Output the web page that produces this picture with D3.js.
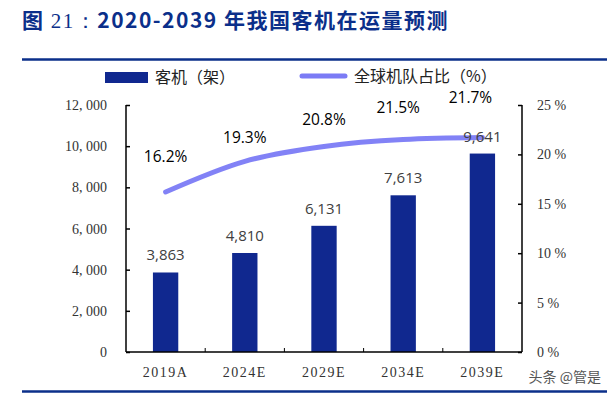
<!DOCTYPE html>
<html>
<head>
<meta charset="utf-8">
<script src="https://cdn.jsdelivr.net/npm/d3@7/dist/d3.min.js"></script>
<style>
  body { margin: 0; background: #fff; }
  svg { display: block; }
</style>
</head>
<body>
<svg id="chart"></svg>
<script>
// data
var years = ["2019A", "2024E", "2029E", "2034E", "2039E"]
var planes = [3863, 4810, 6131, 7613, 9641]
var share = [16.2, 19.3, 20.8, 21.5, 21.7]
var leftTicks = [0, 2000, 4000, 6000, 8000, 10000, 12000]
var rightTicks = [0, 5, 10, 15, 20, 25]

var width = 611, height = 397
var barColor = "#10288f"
var lineColor = "#7b7bf5"
var navy = "#0b2f8a"
var serif = "'Liberation Serif', 'DejaVu Serif', serif"
var cjk = "'Noto Sans CJK SC', sans-serif"
var sans = "'Open Sans', 'Noto Sans', sans-serif"

var plot = { left: 126, right: 522, top: 105, bottom: 352 }

var svg = d3.select("#chart")
    .attr("width", width)
    .attr("height", height)

// title + rules
var title = svg.append("text")
    .attr("x", 22)
    .attr("y", 28)
    .style("font-family", cjk)
    .style("font-size", "21px")
    .style("font-weight", "bold")
    .style("letter-spacing", "1.5px")
    .style("fill", navy)
title.append("tspan").text("图 ")
title.append("tspan").style("font-weight", "normal").style("font-family", serif).text("21：")
title.append("tspan").text("2020-2039 年我国客机在运量预测")

svg.append("line")
    .attr("x1", 22).attr("x2", 607)
    .attr("y1", 59.5).attr("y2", 59.5)
    .attr("stroke", navy).attr("stroke-width", 2.5)

svg.append("line")
    .attr("x1", 22).attr("x2", 607)
    .attr("y1", 391.5).attr("y2", 391.5)
    .attr("stroke", navy).attr("stroke-width", 2.5)

// scales
var x = d3.scaleBand()
    .domain(years)
    .range([plot.left, plot.right])
    .padding(0)

var yL = d3.scaleLinear()
    .domain([0, 12000])
    .range([plot.bottom, plot.top])

var yR = d3.scaleLinear()
    .domain([0, 25])
    .range([plot.bottom, plot.top])

var barW = x.bandwidth() * 0.32
var cx = (d) => x(d) + x.bandwidth() / 2

// bars
svg.selectAll(".bar")
    .data(planes)
    .enter().append("rect")
    .attr("class", "bar")
    .attr("x", (d, i) => cx(years[i]) - barW / 2)
    .attr("y", (d) => yL(d))
    .attr("width", barW)
    .attr("height", (d) => plot.bottom - yL(d))
    .attr("fill", barColor)

// axes
var fmtL = (d) => d3.format(",")(d).replace(",", ", ")

var leftAxis = svg.append("g")
    .attr("transform", "translate(" + plot.left + ",0)")
    .call(d3.axisRight(yL).tickValues(leftTicks).tickSize(4).tickFormat(""))
leftAxis.select(".domain").attr("d", "M0," + plot.top + "V" + plot.bottom)

var rightAxis = svg.append("g")
    .attr("transform", "translate(" + plot.right + ",0)")
    .call(d3.axisLeft(yR).tickValues(rightTicks).tickSize(4).tickFormat(""))
rightAxis.select(".domain").attr("d", "M0," + plot.top + "V" + plot.bottom)

var bottomAxis = svg.append("g")
    .attr("transform", "translate(0," + plot.bottom + ")")
    .call(d3.axisTop(x).tickSize(0).tickFormat(""))
bottomAxis.select(".domain").attr("d", "M" + plot.left + ",0H" + plot.right)

// category separators
bottomAxis.selectAll(".sep")
    .data(years.slice(1))
    .enter().append("line")
    .attr("class", "sep")
    .attr("x1", (d) => x(d)).attr("x2", (d) => x(d))
    .attr("y1", 0).attr("y2", -4)
    .attr("stroke", "#000")

svg.selectAll(".domain, .tick line")
    .attr("stroke", "#000")
    .attr("stroke-width", 1.5)

// tick labels
svg.selectAll(".lab-l")
    .data(leftTicks)
    .enter().append("text")
    .attr("x", 107)
    .attr("y", (d) => yL(d) + 5)
    .attr("text-anchor", "end")
    .style("font-family", serif)
    .style("font-size", "14px")
    .style("fill", "#333")
    .text(fmtL)

svg.selectAll(".lab-r")
    .data(rightTicks)
    .enter().append("text")
    .attr("x", 537)
    .attr("y", (d) => yR(d) + 5)
    .style("font-family", serif)
    .style("font-size", "14px")
    .style("fill", "#333")
    .text((d) => d + " %")

svg.selectAll(".lab-x")
    .data(years)
    .enter().append("text")
    .attr("x", (d) => cx(d))
    .attr("y", 377)
    .attr("text-anchor", "middle")
    .style("font-family", serif)
    .style("font-size", "14px")
    .style("letter-spacing", "1.5px")
    .style("fill", "#333")
    .text((d) => d)

// share line
var line = d3.line()
    .x((d, i) => cx(years[i]))
    .y((d) => yR(d))
    .curve(d3.curveMonotoneX)

svg.append("path")
    .datum(share)
    .attr("d", line)
    .attr("fill", "none")
    .attr("stroke", lineColor)
    .attr("stroke-width", 5)
    .attr("stroke-linecap", "round")
    .attr("opacity", 0.95)

// bar value labels
svg.selectAll(".val")
    .data(planes)
    .enter().append("text")
    .attr("x", (d, i) => cx(years[i]))
    .attr("y", (d) => yL(d) - 12)
    .attr("text-anchor", "middle")
    .style("font-family", sans)
    .style("font-size", "15px")
    .style("fill", "#404040")
    .text(d3.format(","))

// share labels, nudged like the original
var pctNudge = [[0, -30], [0, -18], [0, -21], [-5, -27], [-12, -35]]
svg.selectAll(".pct")
    .data(share)
    .enter().append("text")
    .attr("x", (d, i) => cx(years[i]) + pctNudge[i][0])
    .attr("y", (d, i) => yR(d) + pctNudge[i][1])
    .attr("text-anchor", "middle")
    .style("font-family", sans)
    .style("font-size", "15.5px")
    .style("fill", "#000")
    .text((d) => d.toFixed(1) + "%")

// legend
var legend = svg.append("g")
legend.append("rect")
    .attr("x", 105).attr("y", 72)
    .attr("width", 43).attr("height", 11)
    .attr("fill", barColor)
legend.append("text")
    .attr("x", 155).attr("y", 83)
    .style("font-family", cjk)
    .style("font-size", "16px")
    .style("fill", "#222")
    .text("客机（架）")
legend.append("line")
    .attr("x1", 302).attr("x2", 345)
    .attr("y1", 76).attr("y2", 76)
    .attr("stroke", lineColor)
    .attr("stroke-width", 5)
    .attr("stroke-linecap", "round")
legend.append("text")
    .attr("x", 354).attr("y", 82)
    .style("font-family", cjk)
    .style("font-size", "16px")
    .style("fill", "#222")
    .text("全球机队占比（%）")

// watermark
svg.append("text")
    .attr("x", 601).attr("y", 382)
    .attr("text-anchor", "end")
    .style("font-family", cjk)
    .style("font-size", "14px")
    .style("fill", "#555")
    .text("头条 @管是")
</script>
</body>
</html>
